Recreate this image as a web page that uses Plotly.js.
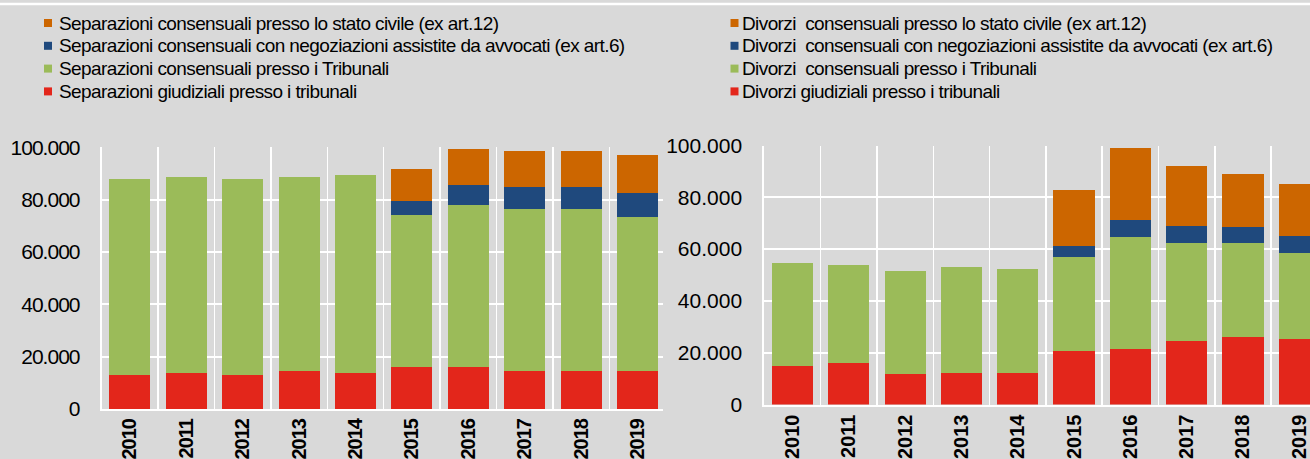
<!DOCTYPE html>
<html>
<head>
<meta charset="utf-8">
<script src="https://cdn.plot.ly/plotly-3.0.1.min.js"></script>
<style>
html,body{margin:0;padding:0;background:#d9d9d9;overflow:hidden;}
#chart{width:1310px;height:459px;}
#chart .xtick text{letter-spacing:-1px;}
#chart .ytick text{letter-spacing:-1px;}
#chart .annotation-text{letter-spacing:-0.6px;}
</style>
</head>
<body>
<div id="chart"></div>
<script>
// ---------- data ----------
const years = ['2010','2011','2012','2013','2014','2015','2016','2017','2018','2019'];

// Separazioni (left chart)
const sepGiudiziali   = [13000, 13800, 13000, 14600, 13800, 16100, 16100, 14600, 14600, 14600];
const sepTribunali    = [74900, 74800, 74900, 74000, 75600, 58000, 61800, 61800, 61800, 58700];
const sepNegoziazioni = [null, null, null, null, null, 5300, 7700, 8400, 8400, 9200];
const sepStatoCivile  = [null, null, null, null, null, 12300, 13800, 13800, 13800, 14600];

// Divorzi (right chart)
const divGiudiziali   = [14700, 16200, 11600, 12300, 12300, 20800, 21600, 24700, 26200, 25400];
const divTribunali    = [39800, 37500, 39800, 40700, 39900, 36000, 42900, 37500, 36000, 33000];
const divNegoziazioni = [null, null, null, null, null, 4500, 6800, 6800, 6200, 6800];
const divStatoCivile  = [null, null, null, null, null, 21500, 27700, 23000, 20500, 19900];

// legend labels (top to bottom)
const sepLabels = [
  'Separazioni consensuali presso lo stato civile (ex art.12)',
  'Separazioni consensuali con negoziazioni assistite da avvocati (ex art.6)',
  'Separazioni consensuali presso i Tribunali',
  'Separazioni giudiziali presso i tribunali'
];
const divLabels = [
  'Divorzi  consensuali presso lo stato civile (ex art.12)',
  'Divorzi  consensuali con negoziazioni assistite da avvocati (ex art.6)',
  'Divorzi  consensuali presso i Tribunali',
  'Divorzi giudiziali presso i tribunali'
];

// y tick labels
const yTickVals = [0, 20000, 40000, 60000, 80000, 100000];
const yTickText = ['0', '20.000', '40.000', '60.000', '80.000', '100.000'];

// ---------- styles ----------
const colors = ['#CC6600', '#1F497D', '#9BBB59', '#E3261B']; // top -> bottom (legend order)
const W = 1310, H = 459;
const FONT = 'Liberation Sans, Arial, sans-serif';

function bar(y, color, xa, ya, name) {
  return {
    type: 'bar', x: years, y: y, name: name,
    xaxis: xa, yaxis: ya,
    marker: {color: color, line: {width: 0}},
    showlegend: false, hoverinfo: 'x+y+name'
  };
}

const traces = [
  bar(sepGiudiziali,   colors[3], 'x',  'y',  sepLabels[3]),
  bar(sepTribunali,    colors[2], 'x',  'y',  sepLabels[2]),
  bar(sepNegoziazioni, colors[1], 'x',  'y',  sepLabels[1]),
  bar(sepStatoCivile,  colors[0], 'x',  'y',  sepLabels[0]),
  bar(divGiudiziali,   colors[3], 'x2', 'y2', divLabels[3]),
  bar(divTribunali,    colors[2], 'x2', 'y2', divLabels[2]),
  bar(divNegoziazioni, colors[1], 'x2', 'y2', divLabels[1]),
  bar(divStatoCivile,  colors[0], 'x2', 'y2', divLabels[0])
];

function xAxis(x0px, x1px, rangeMax) {
  return {
    domain: [x0px / W, x1px / W],
    type: 'category',
    range: [-0.5, rangeMax],
    tickson: 'boundaries',
    showgrid: true, gridcolor: '#ffffff', gridwidth: 1.5,
    showline: true, linecolor: '#ffffff', linewidth: 2,
    zeroline: false,
    ticks: '',
    tickangle: -90,
    ticklabelstandoff: 0,
    tickfont: {family: FONT, size: 20, color: '#000000', weight: 'bold'},
    fixedrange: true
  };
}
function yAxis(zeroPx, topPx) {
  return {
    domain: [(H - zeroPx) / H, (H - topPx) / H],
    range: [0, 100000],
    tickvals: yTickVals, ticktext: yTickText,
    showgrid: true, gridcolor: '#ffffff', gridwidth: 2,
    showline: true, linecolor: '#ffffff', linewidth: 2,
    zeroline: false,
    ticks: '',
    ticklabelstandoff: 16,
    tickfont: {family: FONT, size: 21, color: '#000000'},
    fixedrange: true
  };
}

// manual legends (text as annotations, coloured squares as shapes)
const rowY = [23, 45.8, 68.6, 91.4];
const annotations = [];
const shapes = [
  {type: 'rect', xref: 'paper', yref: 'paper', x0: 0, x1: 1,
   y0: 1 - 5.3 / H, y1: 1 - 2.7 / H, fillcolor: '#ffffff', line: {width: 0}, layer: 'below'}
];
function addLegend(labels, sqX, txtX) {
  labels.forEach(function (t, i) {
    shapes.push({type: 'rect', xref: 'paper', yref: 'paper',
      x0: sqX / W, x1: (sqX + 8) / W,
      y0: 1 - (rowY[i] + 4) / H, y1: 1 - (rowY[i] - 4) / H,
      fillcolor: colors[i], line: {width: 0}});
    annotations.push({xref: 'paper', yref: 'paper', x: txtX / W, y: 1 - rowY[i] / H,
      xanchor: 'left', yanchor: 'middle', align: 'left', showarrow: false, text: t,
      borderpad: 0, borderwidth: 0,
      font: {family: FONT, size: 19, color: '#000000'}});
  });
}
addLegend(sepLabels, 44, 59);
addLegend(divLabels, 730.5, 742);

const layout = {
  width: W, height: H,
  margin: {l: 0, r: 0, t: 0, b: 0, pad: 0},
  paper_bgcolor: '#d9d9d9',
  plot_bgcolor: '#d9d9d9',
  barmode: 'stack',
  bargap: 0.27,
  showlegend: false,
  xaxis: xAxis(101.7, 663.3, 9.457),
  yaxis: yAxis(409, 147.3),
  xaxis2: xAxis(764.3, 1310, 9.19),
  yaxis2: yAxis(404.5, 145.5),
  shapes: shapes,
  annotations: annotations
};
layout.xaxis.anchor = 'y';
layout.yaxis.anchor = 'x';
layout.xaxis2.anchor = 'y2';
layout.yaxis2.anchor = 'x2';

Plotly.newPlot('chart', traces, layout, {staticPlot: true, displayModeBar: false});
</script>
</body>
</html>
